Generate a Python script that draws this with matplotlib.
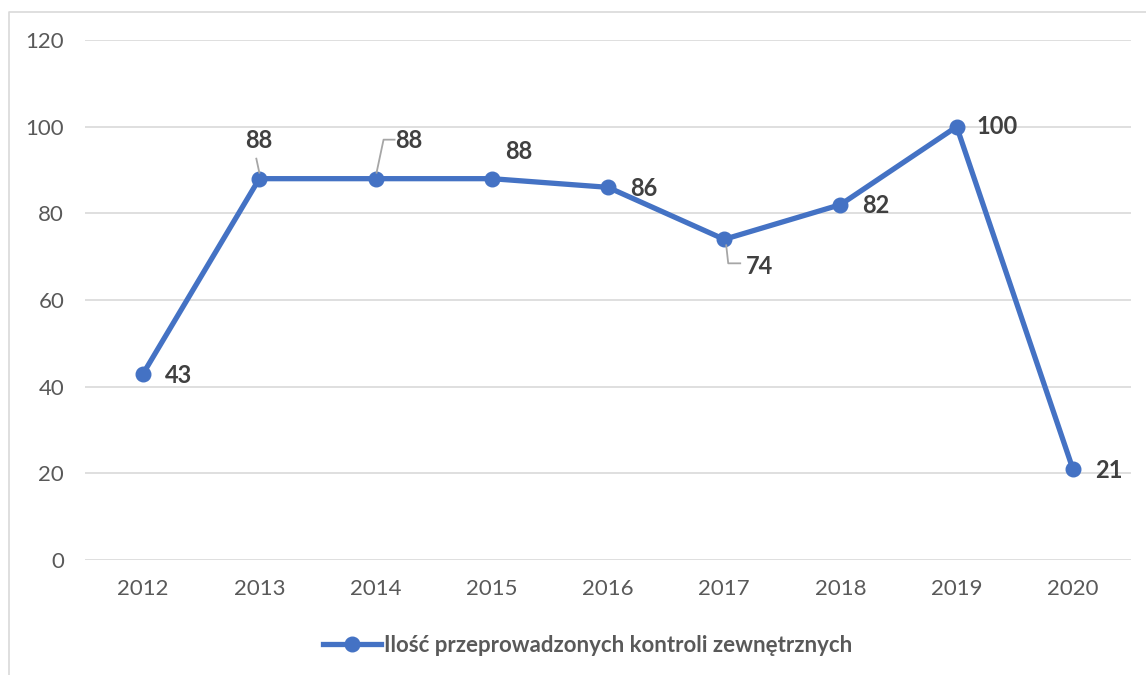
import matplotlib.pyplot as plt
from matplotlib.lines import Line2D
from matplotlib.transforms import IdentityTransform

# data
years = ["2012", "2013", "2014", "2015", "2016", "2017", "2018", "2019", "2020"]
values = [43, 88, 88, 88, 86, 74, 82, 100, 21]
series_name = "Ilość przeprowadzonych kontroli zewnętrznych"

# label offsets in pixels (dx, dy, ha) relative to each point
label_offsets = [(22, -2, "left"), (-1, 38, "center"), (20, 38, "left"),
                 (13, 27, "left"), (22, -1, "left"), (22, -27, "left"),
                 (22, -1, "left"), (20, 0, "left"), (22, -1, "left")]

blue = "#4472C4"
grid_c = "#D9D9D9"
text_c = "#595959"
label_c = "#404040"

plt.rcParams['font.family'] = ['Lato', 'DejaVu Sans']

W, H = 1146, 675
fig = plt.figure(figsize=(W / 100, H / 100), dpi=100)
ax = fig.add_axes([85 / W, 1 - 560 / H, (1131 - 85) / W, (560 - 40) / H])

x = list(range(len(years)))
line, = ax.plot(x, values, color=blue, lw=3.8, marker='o', markersize=10.5,
                label=series_name, solid_joinstyle='round', zorder=3)

ax.set_xlim(-0.5, len(years) - 0.5)
ax.set_ylim(0, 120)
ax.set_yticks(range(0, 121, 20))
ax.set_xticks(x)
ax.set_xticklabels(years)
ax.grid(axis='y', color=grid_c, lw=1.2)
ax.set_axisbelow(True)
for s in ax.spines.values():
    s.set_visible(False)
ax.tick_params(length=0, labelsize=16, colors=text_c)
ax.tick_params(axis='y', pad=15)
ax.tick_params(axis='x', pad=14)

# data labels
for xi, v, (dx, dy, ha) in zip(x, values, label_offsets):
    ax.annotate(str(v), (xi, v), xytext=(dx, dy), textcoords='offset pixels',
                ha=ha, va='center', fontsize=17, fontweight='bold', color=label_c)

# leader lines (display pixels, origin bottom-left)
def to_disp(xi, v):
    return ax.transData.transform((xi, v))

leaders = [
    (1, [(0, 6), (-3, 20)]),
    (2, [(1, 6), (8, 39), (19, 39)]),
    (5, [(2, -6), (4, -24), (16, -24)]),
]
for idx, pts in leaders:
    px, py = to_disp(x[idx], values[idx])
    xs = [px + p[0] for p in pts]
    ys = [py + p[1] for p in pts]
    fig.add_artist(Line2D(xs, ys, color="#A6A6A6", lw=1.3, transform=IdentityTransform()))

# legend
fig.legend(handles=[line], loc='center', bbox_to_anchor=(588 / W, 1 - 645 / H),
           frameon=False, handlelength=2.6, handletextpad=0.15,
           prop={'size': 16, 'weight': 'bold'}, labelcolor=text_c)

# chart frame (left and top edges visible)
fig.add_artist(Line2D([8.5, 8.5, W], [0, H - 11.5, H - 11.5], color=grid_c, lw=1.2,
                      transform=IdentityTransform()))

fig.savefig("out.png", dpi=100)
